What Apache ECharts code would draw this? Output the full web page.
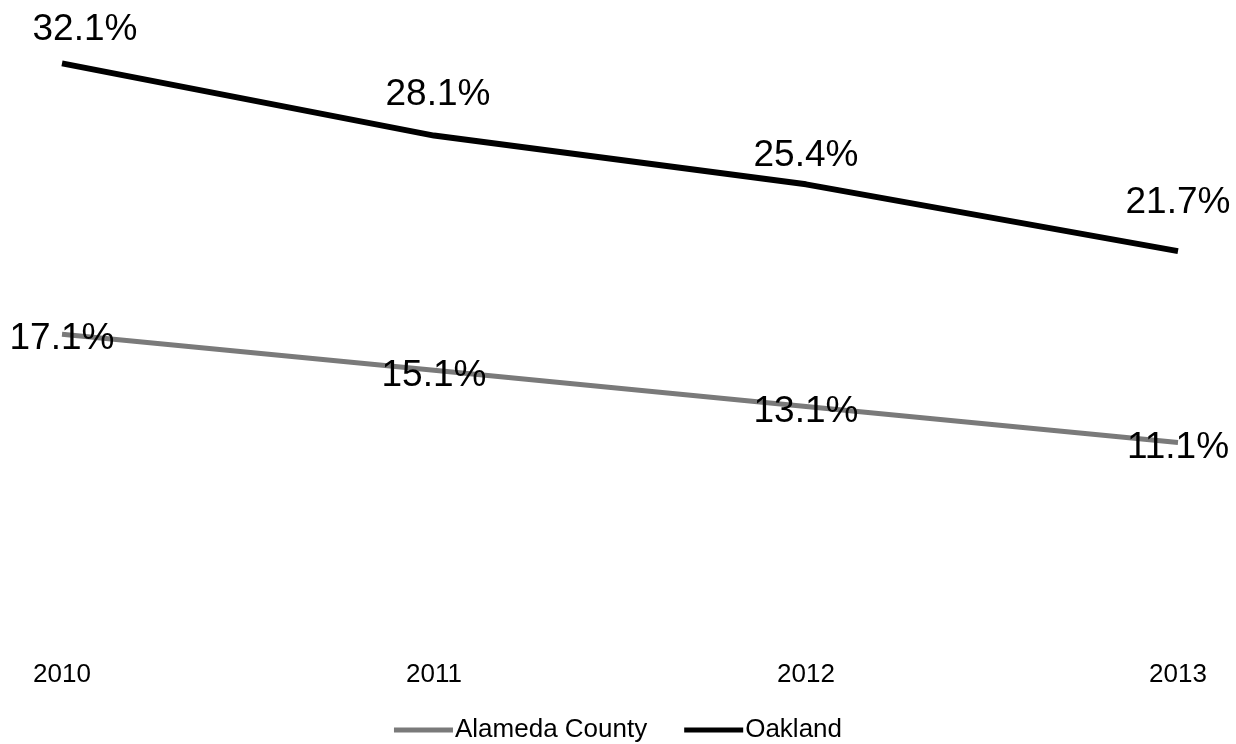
<!DOCTYPE html>
<html>
<head>
<meta charset="utf-8">
<script src="https://cdn.jsdelivr.net/npm/echarts@6/dist/echarts.min.js"></script>
<style>
html,body{margin:0;padding:0;background:#fff;}
#chart{width:1236px;height:744px;}
</style>
</head>
<body>
<div id="chart"></div>
<script>
const years = ['2010', '2011', '2012', '2013'];
const alameda = [17.1, 15.1, 13.1, 11.1];
const oakland = [32.1, 28.1, 25.4, 21.7];
const seriesNames = ['Alameda County', 'Oakland'];

// label nudges (layout only, not data)
const oaklandLabelNudge = [[23, 5], [4, -2], [0, 10], [0, -10]];

const FONT = '"Liberation Sans", Arial, sans-serif';
const chart = echarts.init(document.getElementById('chart'), null, {renderer: 'canvas'});
const fmt = p => p.value.toFixed(1) + '%';

chart.setOption({
  animation: false,
  backgroundColor: '#ffffff',
  grid: {left: 62, right: 58, top: 11, bottom: 101, containLabel: false},
  legend: {
    top: 712,
    left: 'center',
    icon: 'rect',
    itemWidth: 59,
    itemHeight: 5,
    itemGap: 37,
    textStyle: {fontFamily: FONT, fontSize: 26, color: '#000', padding: [0, 0, 0, -3]},
    data: seriesNames
  },
  xAxis: {
    type: 'category',
    data: years,
    boundaryGap: false,
    axisLine: {show: false},
    axisTick: {show: false},
    splitLine: {show: false},
    axisLabel: {fontFamily: FONT, fontSize: 26, color: '#000', margin: 19}
  },
  yAxis: {
    type: 'value',
    min: 0,
    max: 35,
    show: false,
    splitLine: {show: false}
  },
  series: [
    {
      name: seriesNames[0],
      type: 'line',
      data: alameda,
      symbol: 'circle',
      symbolSize: 0.1,
      showSymbol: true,
      lineStyle: {color: '#7a7a7a', width: 5},
      itemStyle: {color: '#7a7a7a'},
      label: {
        show: true,
        position: 'inside',
        offset: [0, 5],
        formatter: fmt,
        fontFamily: FONT,
        fontSize: 37,
        color: '#000'
      },
      z: 2
    },
    {
      name: seriesNames[1],
      type: 'line',
      data: oakland.map((v, i) => ({value: v, label: {offset: oaklandLabelNudge[i]}})),
      symbol: 'circle',
      symbolSize: 0.1,
      showSymbol: true,
      lineStyle: {color: '#000', width: 6},
      itemStyle: {color: '#000'},
      label: {
        show: true,
        position: 'top',
        distance: 20,
        formatter: fmt,
        fontFamily: FONT,
        fontSize: 37,
        color: '#000'
      },
      z: 3
    }
  ]
});
</script>
</body>
</html>
